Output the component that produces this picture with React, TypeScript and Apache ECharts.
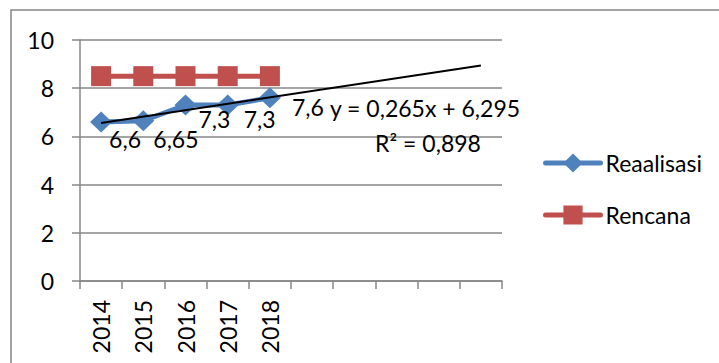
import React, { useEffect, useRef } from "react";
import * as echarts from "echarts";

const categories = ["2014", "2015", "2016", "2017", "2018", "", "", "", "", ""];
const realisasi = [6.6, 6.65, 7.3, 7.3, 7.6];
const rencana = [8.5, 8.5, 8.5, 8.5, 8.5];
// linear trendline end points (y = 0,265x + 6,295 at x = 1 and x = 10)
const trendline = [6.56, null, null, null, null, null, null, null, null, 8.945];
const yTicks = { min: 0, max: 10, interval: 2 };
const trendEquation = "y = 0,265x + 6,295";
const trendR2 = "R² = 0,898";

const FONT = "Lato";
const FS = 23;
const BLUE = "#4F81BD";
const RED = "#C0504D";
const GREY = "#878787";

const labelOffsets = [
  [-3, 17],
  [-1, 18],
  [2, 14],
  [5, 14],
  [11, 9],
];

export default function App() {
  const ref = useRef<HTMLDivElement>(null);
  useEffect(() => {
    if (!ref.current) return;
    const chart = echarts.init(ref.current, null, { renderer: "svg" });
    const fmt = (v: number) => String(v).replace(".", ",");
    const legendBase = {
      orient: "vertical",
      left: 543,
      padding: 0,
      itemWidth: 55,
      itemHeight: 24,
      itemGap: 5,
      lineStyle: { width: 5, cap: "round" },
      textStyle: { fontFamily: FONT, fontSize: FS, color: "#000", lineHeight: 24 },
    };
    chart.setOption({
      animation: false,
      backgroundColor: "#ffffff",
      textStyle: { fontFamily: FONT },
      grid: {
        left: 80,
        top: 40,
        right: 217,
        bottom: 82,
        containLabel: false,
        outerBoundsMode: "none",
      },
      legend: [
        { ...legendBase, data: ["Reaalisasi"], top: 151 },
        { ...legendBase, data: ["Rencana"], top: 203 },
      ],
      xAxis: {
        type: "category",
        data: categories,
        boundaryGap: true,
        axisLine: { show: true, lineStyle: { color: GREY, width: 1.5 } },
        axisTick: { show: true, interval: 0, length: 8, lineStyle: { color: GREY, width: 1.5 } },
        axisLabel: {
          interval: 0,
          rotate: 90,
          margin: 19,
          fontFamily: FONT,
          fontSize: FS,
          color: "#000",
        },
        splitLine: { show: false },
      },
      yAxis: {
        type: "value",
        min: yTicks.min,
        max: yTicks.max,
        interval: yTicks.interval,
        axisLine: { show: true, lineStyle: { color: GREY, width: 1.5 } },
        axisTick: { show: true, length: 8, lineStyle: { color: GREY, width: 1.5 } },
        axisLabel: { margin: 26, fontFamily: FONT, fontSize: FS, color: "#000" },
        splitLine: { show: true, lineStyle: { color: GREY, width: 1.5 } },
      },
      graphic: [
        {
          type: "rect",
          shape: { x: 11, y: 10, width: 760, height: 400 },
          style: { fill: "none", stroke: GREY, lineWidth: 1.5 },
          silent: true,
          z: -1,
        },
        {
          type: "text",
          x: 425,
          y: 108,
          style: {
            text: trendEquation,
            fontFamily: FONT,
            fontSize: FS,
            fill: "#000",
            align: "center",
            verticalAlign: "middle",
          },
          z: 100,
        },
        {
          type: "text",
          x: 428,
          y: 143,
          style: {
            text: trendR2,
            fontFamily: FONT,
            fontSize: FS,
            fill: "#000",
            align: "center",
            verticalAlign: "middle",
          },
          z: 100,
        },
      ],
      series: [
        {
          name: "Reaalisasi",
          type: "line",
          data: realisasi.map((v, i) => ({
            value: v,
            label: { offset: labelOffsets[i] },
          })),
          symbol: "diamond",
          symbolSize: [22, 21],
          lineStyle: { color: BLUE, width: 5 },
          itemStyle: { color: BLUE },
          label: {
            show: true,
            position: "right",
            distance: 0,
            fontFamily: FONT,
            fontSize: FS,
            color: "#000",
            formatter: (p: any) => fmt(p.value),
          },
          z: 3,
        },
        {
          name: "Rencana",
          type: "line",
          data: rencana,
          symbol: "rect",
          symbolSize: [20, 20],
          lineStyle: { color: RED, width: 5 },
          itemStyle: { color: RED },
          z: 3,
        },
        {
          name: "Linear (Reaalisasi)",
          type: "line",
          data: trendline,
          connectNulls: true,
          showSymbol: false,
          symbol: "none",
          lineStyle: { color: "#000", width: 2 },
          z: 5,
        },
      ],
    });
    return () => chart.dispose();
  }, []);
  return (
    <div
      ref={ref}
      style={{ position: "absolute", left: 0, top: 0, width: 719, height: 363 }}
    />
  );
}
